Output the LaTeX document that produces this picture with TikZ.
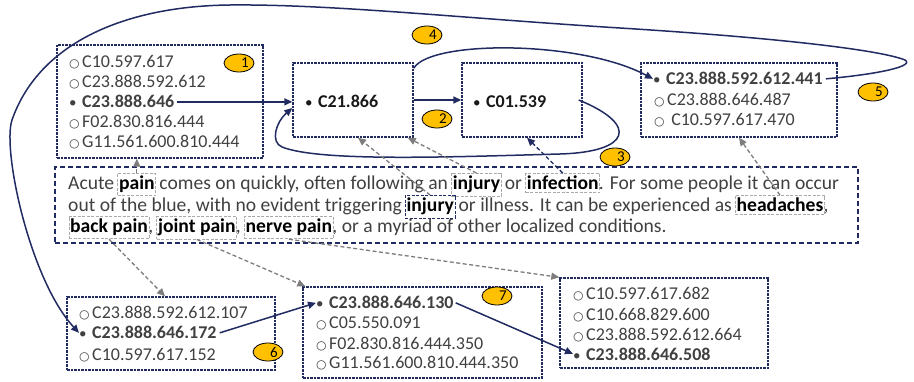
\documentclass[tikz,border=0pt]{standalone}
\usepackage{fontspec}
\setmainfont{Carlito}
\newfontfamily\symf{DejaVu Sans}
\usetikzlibrary{arrows.meta,fit,shapes.geometric}
\definecolor{navy}{RGB}{33,43,98}
\definecolor{txt}{RGB}{64,64,64}
\definecolor{gold}{RGB}{255,192,0}
\definecolor{dgray}{RGB}{125,125,125}
\definecolor{lgray}{RGB}{170,170,170}
\newcommand\obul{\makebox[13pt][l]{\symf\fontsize{12}{12}\selectfont ○}}
\newcommand\bbul{\makebox[13pt][l]{\mdseries\fontsize{15}{15}\selectfont •}}
\newcommand\tsp{\ \null}
\tikzset{
 box/.style={draw=navy, line width=1.4pt, dash pattern=on 2.5pt off 1pt, inner sep=0pt},
 parabox/.style={draw=navy, line width=1.4pt, dash pattern=on 5pt off 3pt, inner sep=0pt},
 item/.style={anchor=base west, inner sep=0pt, text=txt, font=\fontsize{18}{20}\selectfont},
 bitem/.style={item, font=\fontsize{18}{20}\selectfont\bfseries},
 citem/.style={item, text=black!90, font=\fontsize{18}{20}\selectfont\bfseries},
 badge/.style={ellipse, draw=black, line width=0.8pt, fill=gold, minimum width=30pt, minimum height=18pt, inner sep=0pt, font=\fontsize{15}{15}\selectfont},
 nav/.style={draw=navy, line width=1.5pt, -{Triangle[length=8pt,width=7pt]}},
 garr/.style={draw=dgray, line width=1.3pt, dash pattern=on 4pt off 2.5pt, -{Triangle[length=8pt,width=7pt]}},
 narr/.style={draw=navy, line width=1.3pt, dash pattern=on 4pt off 2.5pt, -{Triangle[length=8pt,width=7pt]}},
 kw/.style={draw=lgray, line width=0.9pt, dash pattern=on 3pt off 1.5pt, inner xsep=1pt, inner ysep=2.5pt},
 nkw/.style={kw, draw=navy},
 ptx/.style={anchor=base west, inner sep=0pt, text=txt, font=\fontsize{19.6}{22}\selectfont},
 pkw/.style={ptx, text=black, font=\fontsize{19.6}{22}\selectfont\bfseries},
}
\begin{document}
\begin{tikzpicture}[x=1pt,y=-1pt]
\useasboundingbox (0,0) rectangle (914,382);

% boxes
\node[box, fit={(57,45) (263,158)}] (b1) {};
\node[box, fit={(293,63) (413,137)}] (c21) {};
\node[box, fit={(462,63) (582,137)}] (c01) {};
\node[box, fit={(641,63) (837,137)}] (b5) {};
\node[parabox, fit={(55,167) (858,243)}] (para) {};
\node[box, fit={(67,297) (275,370)}] (b6) {};
\node[box, fit={(303,287) (542,378)}] (b7) {};
\node[box, fit={(560,278) (768,368)}] (b8) {};

% box 1 items
\node[item] (i1a) at (69,68) {\obul C10.597.617};
\node[item] (i1c) at (69,88) {\obul C23.888.592.612};
\node[bitem] (i1b) at (69,108) {\bbul C23.888.646};
\node[item] (i1d) at (69,128) {\obul F02.830.816.444};
\node[item] (i1e) at (69,148) {\obul G11.561.600.810.444};

% centre boxes
\node[citem] (t21) at (305,108) {\bbul C21.866};
\node[citem] (t01) at (473,108) {\bbul C01.539};

% box 5 items
\node[bitem] (i5b) at (653,85) {\bbul C23.888.592.612.441};
\node[item] (i5c) at (654,106) {\obul C23.888.646.487};
\node[item] (i5d) at (654,126) {\obul\ C10.597.617.470};

% box 6 items
\node[item] (i6a) at (79,319) {\obul C23.888.592.612.107};
\node[bitem] (i6b) at (79,339) {\bbul C23.888.646.172};
\node[item] (i6c) at (79,360) {\obul C10.597.617.152};

% box 7 items
\node[bitem] (i7b) at (316,309) {\bbul C23.888.646.130};
\node[item] (i7c) at (316,329) {\obul C05.550.091};
\node[item] (i7d) at (316,349) {\obul F02.830.816.444.350};
\node[item] (i7e) at (316,369) {\obul G11.561.600.810.444.350};

% box 8 items
\node[item] (i8a) at (573,300) {\obul C10.597.617.682};
\node[item] (i8c) at (573,321) {\obul C10.668.829.600};
\node[item] (i8d) at (573,341) {\obul C23.888.592.612.664};
\node[bitem] (i8b) at (573,360) {\bbul C23.888.646.508};

% paragraph line 1
\node[ptx] (l1a) at (68,190) {Acute\tsp};
\node[pkw] (kpain) at (l1a.base east) {pain};
\node[ptx] (l1b) at (kpain.base east) {\ comes on quickly, often following an\tsp};
\node[pkw] (kinj1) at (l1b.base east) {injury};
\node[ptx] (l1c) at (kinj1.base east) {\ or\tsp};
\node[pkw] (kinf) at (l1c.base east) {infection};
\node[ptx] (l1d) at (kinf.base east) {. For some people it can occur};
% line 2
\node[ptx] (l2a) at (68,212) {out of the blue, with no evident triggering\tsp};
\node[pkw] (kinj2) at (l2a.base east) {injury};
\node[ptx] (l2b) at (kinj2.base east) {\ or illness. It can be experienced as\tsp};
\node[pkw] (khead) at (l2b.base east) {headaches};
\node[ptx] (l2c) at (khead.base east) {,};
% line 3
\node[pkw] (kback) at (70,233) {back pain};
\node[ptx] (l3a) at (kback.base east) {,\tsp};
\node[pkw] (kjoint) at (l3a.base east) {joint pain};
\node[ptx] (l3b) at (kjoint.base east) {,\tsp};
\node[pkw] (knerve) at (l3b.base east) {nerve pain};
\node[ptx] (l3c) at (knerve.base east) {, or a myriad of other localized conditions.};

% keyword frames
\node[kw, fit=(kpain)] (bpain) {};
\node[kw, fit=(kinj1)] (binj1) {};
\node[kw, fit=(kinf)] (binf) {};
\node[nkw, fit=(kinj2)] (binj2) {};
\node[kw, fit=(khead)] (bhead) {};
\node[kw, fit=(kback)] (bback) {};
\node[kw, fit=(kjoint)] (bjoint) {};
\node[kw, fit=(knerve)] (bnerve) {};

% badges
\node[badge] (n1) at (239,63) {\hspace*{12pt}1};
\node[badge] (n2) at (437,119) {\hspace*{12pt}2};
\node[badge] (n3) at (615,157) {\hspace*{12pt}3};
\node[badge] (n4) at (427,35) {\hspace*{12pt}4};
\node[badge] (n5) at (873,92) {\hspace*{12pt}5};
\node[badge] (n6) at (268,352) {\hspace*{12pt}6};
\node[badge] (n7) at (497,296) {\hspace*{12pt}7};

% solid navy connectors
\draw[nav] ([xshift=2pt]i1b.east) -- (i1b.east -| c21.west);
\draw[nav] (c21.east) -- (c01.west);
\draw[nav] ([xshift=-4pt]c01.east) .. controls (640,125) and (630,152) .. (560,154)
  .. controls (450,157) and (320,162) .. (282,147)
  .. controls (270,142) and (276,122) .. ([yshift=-8pt]c21.west);
\draw[nav] ([yshift=-6pt]c21.north east) .. controls (430,40) and (580,40) .. (i5b.west);
\draw[nav] ([xshift=3pt]i5b.east) .. controls (880,74) and (915,66) .. (905,60)
  .. controls (880,50) and (780,38) .. (620,28)
  .. controls (460,18) and (330,4) .. (230,5)
  .. controls (130,6) and (40,40) .. (12,120)
  .. controls (2,150) and (30,280) .. (i6b.west);
\draw[nav] ([xshift=3pt]i6b.east) -- (i7b.west);
\draw[nav] ([xshift=2pt]i7b.east) -- (i8b.west);

% dashed reference arrows
\draw[garr] (bpain.north) -- (bpain.north |- b1.south);
\draw[garr] (binj1.north) -- ([xshift=-6pt]c21.south east);
\draw[garr] (binj2.north) -- ([xshift=5pt]c21.south);
\draw[narr] (binf.north) -- ([xshift=5pt]c01.south);
\draw[garr] (bhead.north) -- (b5.south);
\draw[garr] (bback.south) -- ([xshift=-6pt]b6.north);
\draw[garr] (bjoint.south) -- ([xshift=3pt]b7.north west);
\draw[garr] (bnerve.south) -- (b8.north west);
\end{tikzpicture}
\end{document}
